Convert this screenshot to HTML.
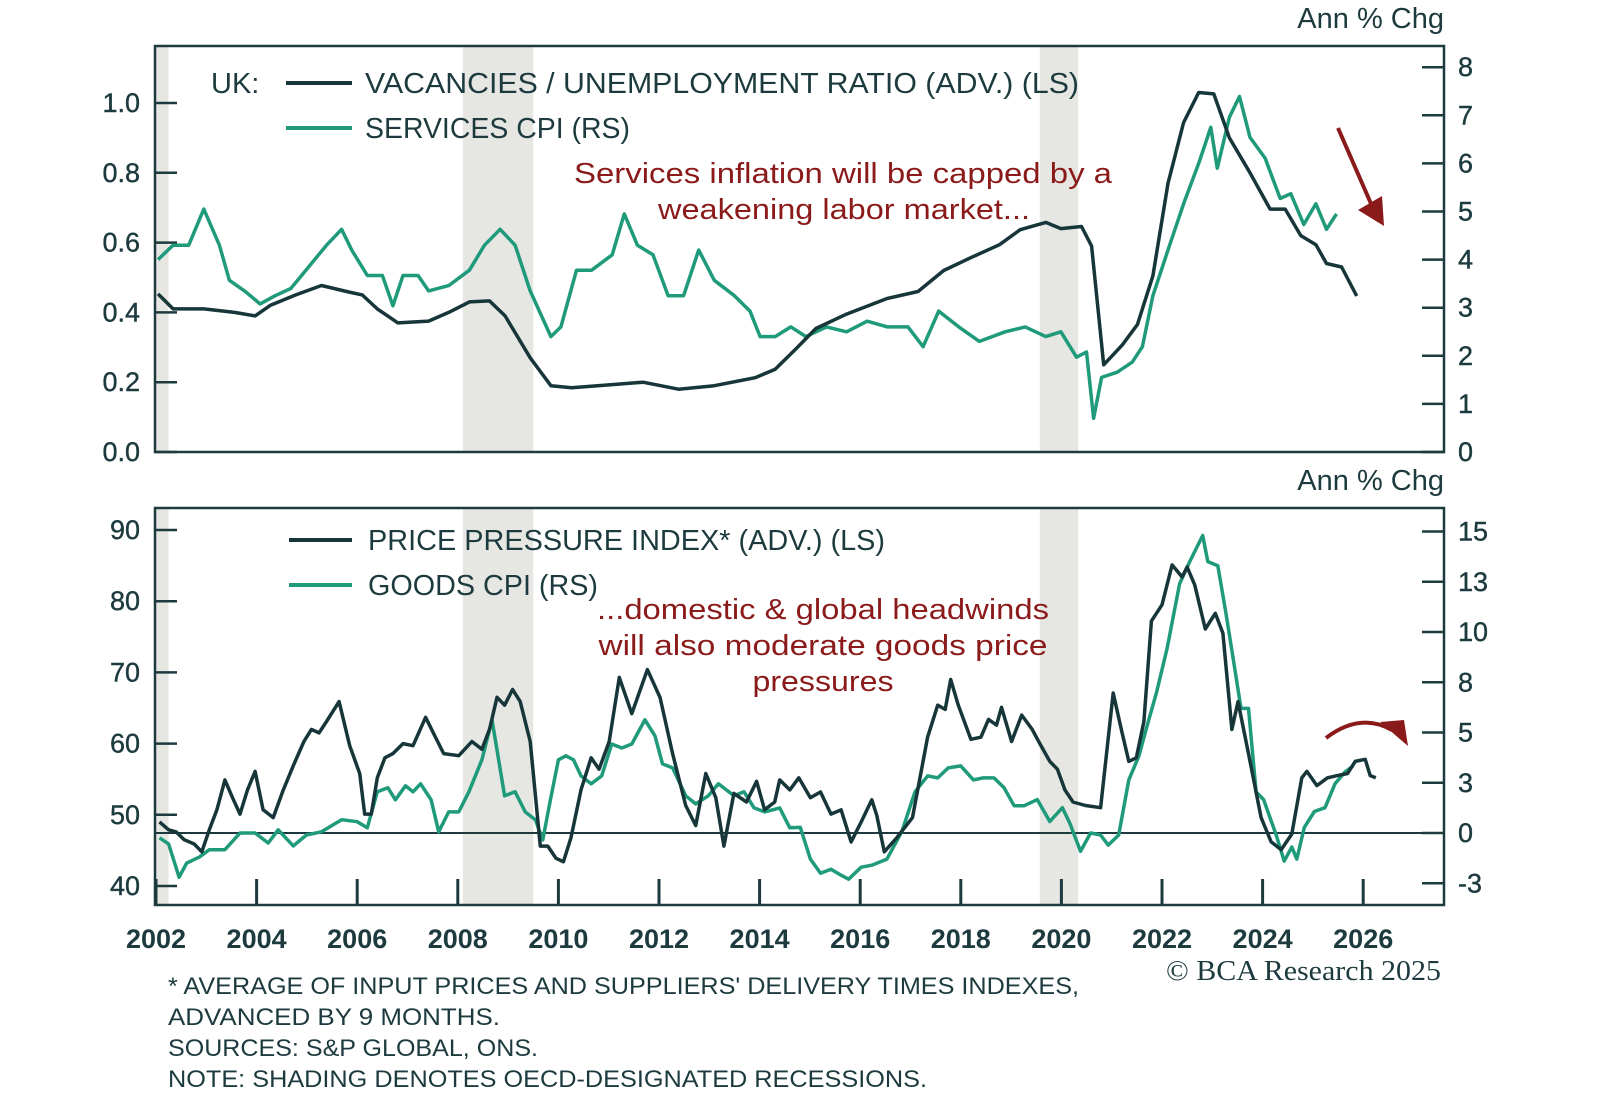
<!DOCTYPE html>
<html><head><meta charset="utf-8"><style>
body{margin:0;background:#fff;}
svg{display:block;font-family:"Liberation Sans",sans-serif;}
</style></head><body>
<svg id="c" width="1600" height="1107" viewBox="0 0 1600 1107">
<g id="shade"></g>
<g id="grid"></g>
<g id="lines"></g>
<g id="txt" fill="#1d3b3f">
<text x="1444" y="28" text-anchor="end" font-size="29">Ann % Chg</text>
<text x="1444" y="490" text-anchor="end" font-size="29">Ann % Chg</text>
<text x="211" y="93" font-size="29">UK:</text>
<line x1="286" y1="83" x2="352" y2="83" stroke="#17363a" stroke-width="4"/>
<text x="365" y="93" font-size="29" textLength="714" lengthAdjust="spacingAndGlyphs">VACANCIES / UNEMPLOYMENT RATIO (ADV.) (LS)</text>
<line x1="286" y1="128" x2="352" y2="128" stroke="#1f9a7a" stroke-width="4"/>
<text x="365" y="138" font-size="29" textLength="265" lengthAdjust="spacingAndGlyphs">SERVICES CPI (RS)</text>
<g fill="#8b1a1a" font-size="29" text-anchor="middle">
<text x="843" y="183" textLength="538" lengthAdjust="spacingAndGlyphs">Services inflation will be capped by a</text>
<text x="844" y="219" textLength="372" lengthAdjust="spacingAndGlyphs">weakening labor market...</text>
<text x="823" y="619" textLength="452" lengthAdjust="spacingAndGlyphs">...domestic &amp; global headwinds</text>
<text x="823" y="655" textLength="449" lengthAdjust="spacingAndGlyphs">will also moderate goods price</text>
<text x="823" y="691" textLength="141" lengthAdjust="spacingAndGlyphs">pressures</text>
</g>
<line x1="289" y1="540" x2="352" y2="540" stroke="#17363a" stroke-width="4"/>
<text x="368" y="550" font-size="29" textLength="517" lengthAdjust="spacingAndGlyphs">PRICE PRESSURE INDEX* (ADV.) (LS)</text>
<line x1="289" y1="585" x2="352" y2="585" stroke="#1f9a7a" stroke-width="4"/>
<text x="368" y="595" font-size="29" textLength="230" lengthAdjust="spacingAndGlyphs">GOODS CPI (RS)</text>
<text x="1166" y="980" font-size="28" textLength="275" lengthAdjust="spacingAndGlyphs" font-family="Liberation Serif,serif">© BCA Research 2025</text>
<g font-size="24">
<text x="168" y="994" textLength="911" lengthAdjust="spacingAndGlyphs">* AVERAGE OF INPUT PRICES AND SUPPLIERS' DELIVERY TIMES INDEXES,</text>
<text x="168" y="1025" textLength="332" lengthAdjust="spacingAndGlyphs">ADVANCED BY 9 MONTHS.</text>
<text x="168" y="1056" textLength="370" lengthAdjust="spacingAndGlyphs">SOURCES: S&amp;P GLOBAL, ONS.</text>
<text x="168" y="1087" textLength="759" lengthAdjust="spacingAndGlyphs">NOTE: SHADING DENOTES OECD-DESIGNATED RECESSIONS.</text>
</g>
</g>
<path d="M1338 128 L1372 206" stroke="#8b1a1a" stroke-width="4" fill="none"/>
<polygon points="1358,210 1384,226 1382,196" fill="#8b1a1a"/>
<path d="M1326 738 Q1360 712 1392 730" stroke="#8b1a1a" stroke-width="4" fill="none"/>
<polygon points="1380,722 1408,746 1404,720" fill="#8b1a1a"/>
</svg>
<script>
// ---- data ----
const recessions=[[2002.0,2002.25],[2008.1,2009.5],[2019.57,2020.33]];
const vuYears=[2002.04,2002.34,2002.95,2003.56,2003.97,2004.27,2004.78,2005.29,2005.79,2006.10,2006.40,2006.81,2007.42,2007.82,2008.23,2008.63,2008.94,2009.44,2009.85,2010.26,2011.07,2011.68,2012.39,2013.10,2013.91,2014.31,2014.72,2015.12,2015.73,2016.54,2017.15,2017.66,2018.17,2018.77,2019.18,2019.69,2019.99,2020.40,2020.60,2020.84,2021.21,2021.51,2021.82,2022.12,2022.43,2022.73,2023.03,2023.34,2023.75,2024.15,2024.45,2024.76,2025.06,2025.27,2025.57,2025.87];
const vuValues=[0.453,0.41,0.41,0.40,0.39,0.42,0.45,0.477,0.46,0.45,0.41,0.37,0.375,0.40,0.43,0.433,0.39,0.27,0.19,0.184,0.193,0.20,0.18,0.19,0.213,0.237,0.295,0.354,0.395,0.44,0.46,0.52,0.555,0.594,0.637,0.658,0.64,0.646,0.59,0.25,0.307,0.365,0.505,0.77,0.944,1.03,1.026,0.90,0.80,0.696,0.696,0.62,0.594,0.54,0.53,0.447];
const svcYears=[2002.04,2002.34,2002.65,2002.95,2003.26,2003.46,2003.76,2004.07,2004.37,2004.68,2004.98,2005.39,2005.69,2005.89,2006.20,2006.50,2006.71,2006.91,2007.21,2007.42,2007.82,2008.23,2008.53,2008.84,2009.14,2009.44,2009.85,2010.05,2010.36,2010.66,2011.07,2011.31,2011.57,2011.88,2012.18,2012.49,2012.79,2013.10,2013.50,2013.81,2014.01,2014.31,2014.62,2014.92,2015.33,2015.73,2016.14,2016.54,2016.95,2017.25,2017.56,2017.96,2018.37,2018.88,2019.28,2019.69,2019.99,2020.30,2020.50,2020.64,2020.80,2021.11,2021.41,2021.61,2021.82,2022.12,2022.43,2022.73,2022.97,2023.10,2023.34,2023.54,2023.75,2024.05,2024.35,2024.56,2024.82,2025.06,2025.27,2025.47];
const svcValues=[4.0,4.3,4.3,5.05,4.3,3.57,3.35,3.08,3.25,3.4,3.78,4.3,4.63,4.2,3.67,3.67,3.04,3.67,3.67,3.35,3.46,3.78,4.3,4.63,4.3,3.35,2.4,2.6,3.78,3.78,4.1,4.95,4.3,4.1,3.25,3.25,4.2,3.57,3.25,2.93,2.4,2.4,2.6,2.4,2.6,2.5,2.72,2.6,2.6,2.19,2.93,2.6,2.3,2.5,2.6,2.4,2.5,1.97,2.08,0.7,1.55,1.66,1.87,2.19,3.25,4.2,5.16,6.0,6.75,5.9,6.96,7.39,6.54,6.11,5.27,5.37,4.73,5.16,4.63,4.95];
const ppiYears=[2002.07,2002.25,2002.40,2002.56,2002.76,2002.91,2003.06,2003.21,2003.37,2003.52,2003.67,2003.82,2003.97,2004.13,2004.33,2004.53,2004.73,2004.94,2005.09,2005.24,2005.39,2005.64,2005.85,2006.05,2006.15,2006.28,2006.40,2006.55,2006.71,2006.91,2007.11,2007.36,2007.52,2007.72,2008.02,2008.28,2008.48,2008.63,2008.78,2008.93,2009.09,2009.24,2009.44,2009.64,2009.79,2009.95,2010.10,2010.25,2010.45,2010.65,2010.81,2011.01,2011.21,2011.46,2011.77,2012.02,2012.27,2012.53,2012.73,2012.93,2013.13,2013.29,2013.49,2013.74,2013.94,2014.10,2014.30,2014.40,2014.60,2014.78,2015.01,2015.21,2015.42,2015.62,2015.82,2016.02,2016.23,2016.33,2016.48,2016.73,2017.04,2017.34,2017.54,2017.69,2017.80,2017.95,2018.20,2018.40,2018.55,2018.71,2018.81,2019.01,2019.21,2019.42,2019.57,2019.77,2019.92,2020.07,2020.23,2020.48,2020.78,2021.03,2021.19,2021.34,2021.49,2021.64,2021.79,2022.00,2022.20,2022.40,2022.50,2022.65,2022.86,2023.06,2023.21,2023.39,2023.51,2023.72,2023.97,2024.17,2024.37,2024.58,2024.78,2024.88,2025.08,2025.29,2025.49,2025.69,2025.84,2026.04,2026.14,2026.25];
const ppiValues=[49.0,47.9,47.6,46.5,45.9,44.8,47.9,50.7,54.9,52.4,50.1,53.5,56.1,50.7,49.6,53.5,56.9,60.3,62.0,61.5,63.1,65.9,59.7,55.8,50.1,50.1,55.2,58.0,58.6,60.0,59.7,63.7,61.4,58.6,58.3,60.3,59.2,62.0,66.5,65.4,67.6,65.9,60.3,45.6,45.6,43.9,43.4,46.8,53.5,58.0,56.4,60.3,69.3,64.2,70.4,66.5,58.6,51.3,48.5,55.8,52.4,45.6,53.0,51.8,54.7,50.7,51.8,54.9,53.5,55.2,52.4,53.2,50.1,50.7,46.2,49.0,52.1,49.9,44.8,46.8,49.6,60.9,65.4,64.8,69.0,65.4,60.6,60.9,63.4,62.6,65.1,60.3,64.0,62.0,60.0,57.5,56.4,53.5,51.8,51.3,51.0,67.1,62.0,57.5,58.0,63.1,77.2,79.5,85.1,83.4,84.8,82.3,76.1,78.3,75.5,62.0,65.9,58.6,49.6,46.2,45.1,47.3,55.2,56.1,54.1,55.2,55.5,55.8,57.5,57.8,55.5,55.2];
const goodsYears=[2002.07,2002.25,2002.46,2002.61,2002.86,2003.06,2003.37,2003.67,2003.97,2004.23,2004.43,2004.73,2004.99,2005.29,2005.69,2006.00,2006.20,2006.40,2006.61,2006.76,2006.96,2007.11,2007.26,2007.47,2007.62,2007.82,2008.02,2008.22,2008.48,2008.68,2008.93,2009.14,2009.34,2009.54,2009.69,2009.84,2010.00,2010.15,2010.30,2010.45,2010.65,2010.86,2011.06,2011.26,2011.46,2011.72,2011.92,2012.07,2012.27,2012.53,2012.73,2012.98,2013.18,2013.49,2013.69,2013.89,2014.10,2014.40,2014.60,2014.81,2015.01,2015.21,2015.42,2015.62,2015.77,2016.02,2016.23,2016.53,2016.83,2017.09,2017.34,2017.54,2017.75,2018.00,2018.25,2018.45,2018.66,2018.86,2019.06,2019.26,2019.52,2019.77,2020.02,2020.17,2020.38,2020.58,2020.78,2020.93,2021.14,2021.34,2021.54,2021.69,2021.89,2022.10,2022.35,2022.55,2022.81,2022.91,2023.11,2023.26,2023.41,2023.57,2023.72,2023.87,2024.02,2024.27,2024.43,2024.58,2024.68,2024.83,2025.03,2025.24,2025.44,2025.64,2025.80];
const goodsValues=[-0.24,-0.54,-2.2,-1.5,-1.2,-0.83,-0.83,0,0,-0.5,0.16,-0.64,-0.1,0.06,0.66,0.56,0.26,2.05,2.25,1.65,2.35,2.05,2.45,1.65,0.06,1.05,1.05,2.05,3.64,5.63,1.85,2.05,1.05,0.66,-0.34,1.65,3.64,3.84,3.64,2.84,2.45,2.84,4.43,4.23,4.43,5.63,4.83,3.44,3.24,1.85,1.45,1.85,2.45,1.85,2.05,1.25,1.05,1.25,0.26,0.28,-1.3,-2.0,-1.8,-2.1,-2.3,-1.7,-1.6,-1.3,0.08,2.05,2.84,2.74,3.24,3.34,2.64,2.74,2.74,2.25,1.36,1.36,1.66,0.57,1.26,0.47,-0.91,0,-0.1,-0.6,-0.1,2.64,3.83,5.21,6.99,9.16,12.4,13.5,14.8,13.5,13.3,11.1,8.76,6.2,6.2,2.05,1.66,-0.1,-1.4,-0.7,-1.3,0.28,1.07,1.26,2.45,3.04,3.34];
const xTickYears=[2002,2004,2006,2008,2010,2012,2014,2016,2018,2020,2022,2024,2026];
const topLeftTicks=[0.0,0.2,0.4,0.6,0.8,1.0];
const topLeftLabels=["0.0","0.2","0.4","0.6","0.8","1.0"];
const topRightTicks=[0,1,2,3,4,5,6,7,8];
const botLeftTicks=[40,50,60,70,80,90];
const botRightTicks=[-2.5,0,2.5,5,7.5,10,12.5,15];
const botRightLabels=["-3","0","3","5","8","10","13","15"];

// ---- axes ----
const L=155,R=1444,TT=46,TB=452,BT=508,BB=905;
const X=y=>156+(y-2002)*50.3;
const yTL=v=>452-v*349;
const yTR=v=>452-v*48.1;
const yBL=v=>886-(v-40)*7.12;
const yBR=v=>833-v*20.1;
const NS="http://www.w3.org/2000/svg";
function mk(par,tag,at){const e=document.createElementNS(NS,tag);for(const k in at)e.setAttribute(k,at[k]);par.appendChild(e);return e;}
const C="#1d3b3f";
const shade=document.getElementById('shade'),grid=document.getElementById('grid'),lines=document.getElementById('lines');
recessions.forEach(r=>{[[TT,TB],[BT,BB]].forEach(p=>{
 const e=mk(shade,'rect',{x:X(r[0]),y:p[0],width:X(r[1])-X(r[0]),height:p[1]-p[0],fill:'#e6e6e2'});
 
 
});});
[[TT,TB],[BT,BB]].forEach(p=>{
 const e=mk(grid,'rect',{x:L,y:p[0],width:R-L,height:p[1]-p[0],fill:'none',stroke:C,'stroke-width':2.5});
 
 
});
const zl=mk(grid,'line',{x1:L,x2:R,y1:yBR(0),y2:yBR(0),stroke:C,'stroke-width':2});


function tick(x1,x2,y,label,tx,anchor){
 mk(grid,'line',{x1:x1,x2:x2,y1:y,y2:y,stroke:C,'stroke-width':2.5});
 const t=mk(grid,'text',{x:tx,y:y+9,'text-anchor':anchor,'font-size':27,fill:C,stroke:C,'stroke-width':0.4});t.textContent=label;
 
 
}
topLeftTicks.forEach((v,i)=>tick(L,L+22,yTL(v),topLeftLabels[i],140,'end'));
topRightTicks.forEach(v=>tick(R-22,R,yTR(v),String(v),1458,'start'));
botLeftTicks.forEach(v=>tick(L,L+22,yBL(v),String(v),140,'end'));
botRightTicks.forEach((v,i)=>tick(R-22,R,yBR(v),botRightLabels[i],1458,'start'));
xTickYears.forEach(y=>{
 mk(grid,'line',{x1:X(y),x2:X(y),y1:BB,y2:BB-26,stroke:C,'stroke-width':3});
 const t=mk(grid,'text',{x:X(y),y:948,'text-anchor':'middle','font-size':27,'font-weight':'bold',fill:C});t.textContent=y;
 
 
});
function line(xs,vs,fy,col,name){
 const d=xs.map((y,i)=>(i?'L':'M')+X(y).toFixed(1)+' '+fy(vs[i]).toFixed(1)).join(' ');
 const e=mk(lines,'path',{d:d,fill:'none',stroke:col,'stroke-width':3.5,'stroke-linejoin':'round'});
 
 
}
line(svcYears,svcValues,yTR,'#1f9a7a','services-cpi-line');
line(vuYears,vuValues,yTL,'#17363a','vu-ratio-line');
line(goodsYears,goodsValues,yBR,'#1f9a7a','goods-cpi-line');
line(ppiYears,ppiValues,yBL,'#17363a','price-pressure-line');
</script>
</body></html>
